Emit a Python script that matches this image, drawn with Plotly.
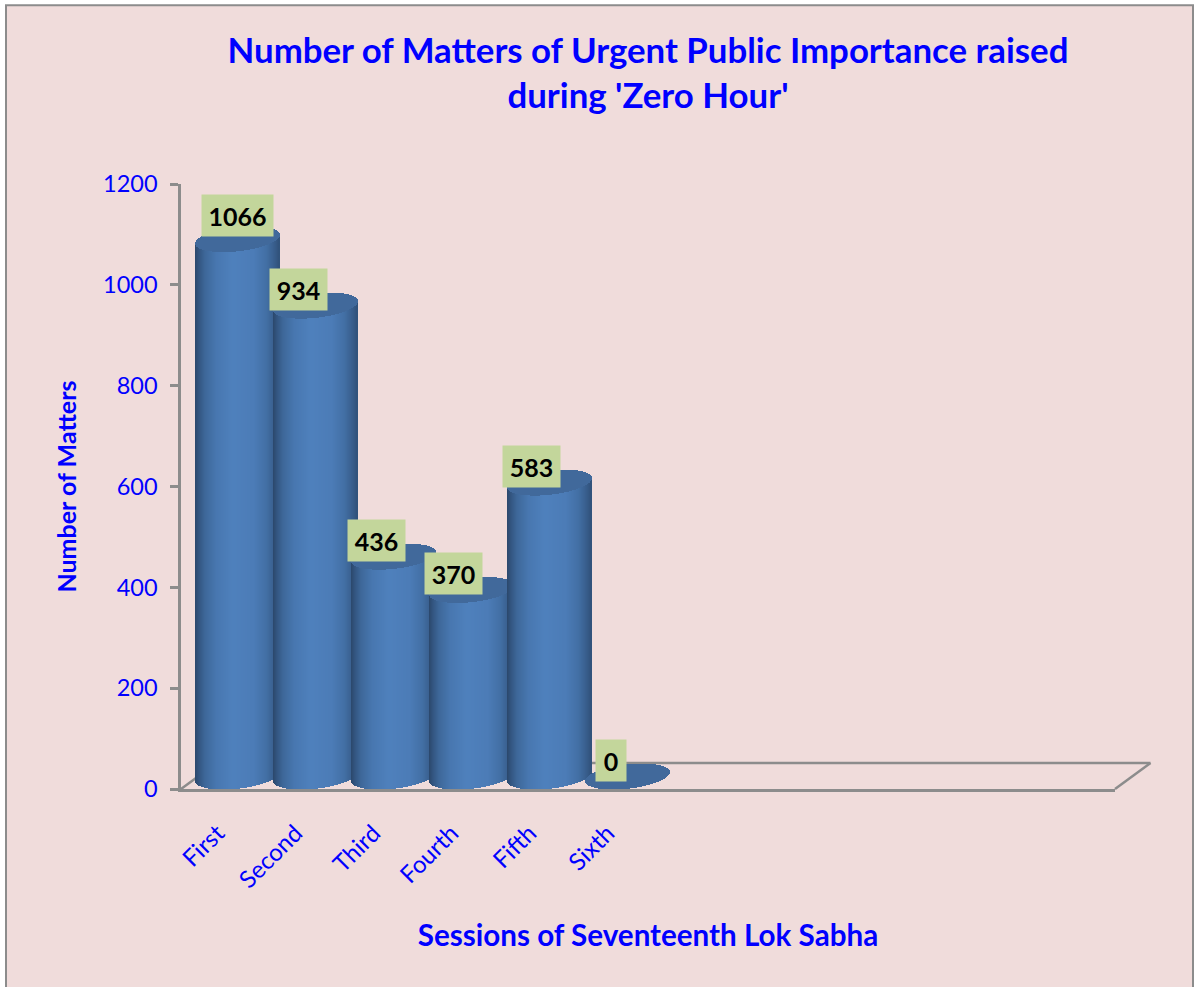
import numpy as np
import plotly.graph_objects as go

# ---- data ----
sessions = ["First", "Second", "Third", "Fourth", "Fifth", "Sixth"]
matters = [1066, 934, 436, 370, 583, 0]
y_ticks = [0, 200, 400, 600, 800, 1000, 1200]
title_text = "Number of Matters of Urgent Public Importance raised<br>during 'Zero Hour'"
x_title = "Sessions of Seventeenth Lok Sabha"
y_title = "Number of Matters"

# ---- styles / layout geometry (pixels) ----
W, H = 1194, 987
PL, PR, PT, PB = 181, 1115, 184, 789.5
XU = 78.0                 # px per category
YU = (PB - PT) / 1200.0   # px per value unit
C0 = 237.5                # px centre of first cylinder
BASE_UP = 12.5            # px the base ellipse centre sits above the axis line
RX, RY_A, RY_B = 42.0, 12.2, 4.5
BLUE = "#0000FF"
GREY = "#8C8C8C"
BG = "#F0DCDB"
CAP = "#41699B"
LABEL_BG = "#C3D69B"
FONT = "Lato"
label_dx = [0, -17, -17, -18, -18, -17]
label_dy = [23.5, 16, 16, 16, 16, 16]
label_w = [71, 57, 57, 57, 57, 30]

stops_t = [0, .05, .12, .25, .45, .7, .85, .95, 1]
stops_c = [(0x2B, 0x48, 0x6C), (0x34, 0x57, 0x82), (0x3E, 0x68, 0x9A), (0x48, 0x77, 0xB0),
           (0x4F, 0x81, 0xBD), (0x4C, 0x7C, 0xB7), (0x43, 0x70, 0xA5), (0x38, 0x5D, 0x8B), (0x31, 0x52, 0x7A)]


def shade(t):
    return "rgb(%d,%d,%d)" % tuple(np.interp(t, stops_t, [c[k] for c in stops_c]) for k in range(3))


dx_px = np.arange(-RX + 0.5, RX, 1.0)
u = dx_px / RX
lower = (-RY_A * np.sqrt(1 - u ** 2) + RY_B * u) / YU
upper = (RY_A * np.sqrt(1 - u ** 2) + RY_B * u) / YU
colors = [shade(t) for t in (u + 1) / 2]
slice_w = 1.0 / XU
slice_x = dx_px / XU

fig = go.Figure()
# the values on the visible axis (keeps the y axis attached); marks are the cylinders below
fig.add_trace(go.Scatter(x=list(range(len(sessions))), y=matters, mode="markers",
                         marker=dict(size=1, opacity=0), showlegend=False, hoverinfo="skip"))
for i, (name, v) in enumerate(zip(sessions, matters)):
    fig.add_trace(go.Bar(x=i + slice_x, y=[v] * len(u), base=lower, width=slice_w, yaxis="y2",
                         marker=dict(color=colors, line=dict(width=0)), name=name,
                         showlegend=False, hoverinfo="skip"))
    fig.add_trace(go.Bar(x=i + slice_x, y=upper - lower, base=v + lower, width=slice_w, yaxis="y2",
                         marker=dict(color=CAP, line=dict(width=0)), name=name + " top",
                         showlegend=False, hoverinfo="skip"))


def fx(px):
    return (px - PL) / (PR - PL)


def fy(py):
    return (PB - py) / (PB - PT)


FLOOR_DX, FLOOR_DY = 35.5, 26
floor = [
    (PL, PB, PL + FLOOR_DX, PB - FLOOR_DY),
    (PL + FLOOR_DX, PB - FLOOR_DY, PR + FLOOR_DX, PB - FLOOR_DY),
    (PR, PB, PR + FLOOR_DX, PB - FLOOR_DY),
]
shapes = [dict(type="rect", xref="paper", yref="paper", layer="below",
               x0=fx(6), x1=fx(1193), y0=fy(1000), y1=fy(5),
               fillcolor=BG, line=dict(color=GREY, width=2))]
for a, b, c, d in floor:
    shapes.append(dict(type="line", xref="paper", yref="paper", layer="below",
                       x0=fx(a), y0=fy(b), x1=fx(c), y1=fy(d), line=dict(color=GREY, width=2.5)))

annotations = []
for i, v in enumerate(matters):
    annotations.append(dict(x=i, y=v, xref="x", yref="y2", text="<b>%d</b>" % v, showarrow=False,
                            xshift=label_dx[i], yshift=label_dy[i], bgcolor=LABEL_BG,
                            width=label_w[i], height=41, borderpad=0, align="center", valign="middle",
                            font=dict(family=FONT, size=25, color="black")))

fig.update_layout(
    width=W, height=H, autosize=False,
    margin=dict(l=PL, r=W - PR, t=PT, b=H - PB, pad=0),
    paper_bgcolor="white", plot_bgcolor="rgba(0,0,0,0)",
    barmode="overlay", bargap=0, showlegend=False,
    font=dict(family=FONT, color=BLUE),
    title=dict(text="<b>%s</b>" % title_text, x=648 / W, xanchor="center", y=1 - 63 / H, yanchor="middle",
               font=dict(family=FONT, size=34.8, color=BLUE)),
    xaxis=dict(range=[(PL - C0) / XU, (PR - C0) / XU], tickmode="array", tickvals=list(range(6)),
               ticktext=sessions, tickangle=-45, ticks="", ticklabelshift=-20, ticklabelstandoff=18,
               tickfont=dict(family=FONT, size=24, color=BLUE),
               showline=True, linecolor=GREY, linewidth=2.5, showgrid=False, zeroline=False,
               title=dict(text="<b>%s</b>" % x_title, standoff=34, font=dict(family=FONT, size=29.6, color=BLUE))),
    yaxis=dict(range=[0, 1200], tickmode="array", tickvals=y_ticks, ticks="outside", ticklen=8, tickwidth=2.5,
               tickcolor=GREY, tickfont=dict(family=FONT, size=23.5, color=BLUE), ticklabelstandoff=8,
               showline=True, linecolor=GREY, linewidth=2.5, showgrid=False, zeroline=False,
               title=dict(text="<b>%s</b>" % y_title, standoff=20, font=dict(family=FONT, size=25, color=BLUE))),
    yaxis2=dict(range=[-BASE_UP / YU, 1200 - BASE_UP / YU], overlaying="y", visible=False),
    shapes=shapes, annotations=annotations,
)

fig.write_html("out.html", config={"displayModeBar": False},
               post_script="document.body.style.margin='0';document.body.style.overflow='hidden';")
